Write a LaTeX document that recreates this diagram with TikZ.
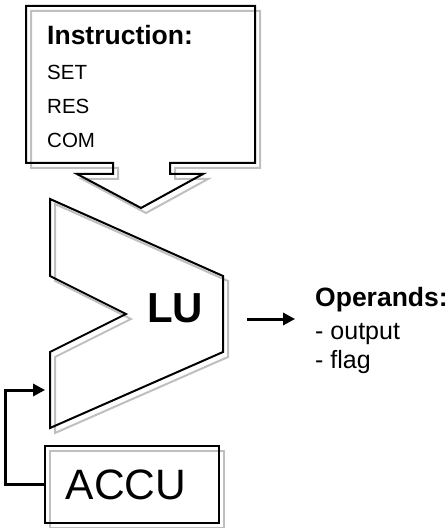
\documentclass[tikz,border=0pt]{standalone}
\usepackage{fontspec}
\setmainfont{Liberation Sans}
\usetikzlibrary{arrows.meta}

\begin{document}
\begin{tikzpicture}[x=1bp, y=-1bp, >={Triangle[length=12bp,width=12bp]},
		outline/.style={draw=black, line width=2bp},
		shade/.style={draw=black!25, line width=2bp},
		flow/.style={->, line width=3bp},
		label/.style={inner sep=0pt, anchor=base west, font=\fontsize{20.5bp}{24bp}\selectfont},
		head/.style={label, font=\bfseries\fontsize{26.5bp}{30bp}\selectfont}]
			\useasboundingbox (0,0) rectangle (448,528);

			% shadows
			\draw[shade, shift={(5,5)}] (26,6) -- (255,6) -- (255,163) -- (170,163) -- (170,174) -- (203,174)
				-- (141,208) -- (77,174) -- (113,174) -- (113,163) -- (26,163) -- cycle;
			\draw[shade, shift={(5,5)}] (50,199) -- (223,276) -- (223,352) -- (50,428) -- (50,352)
				-- (126,314) -- (50,276) -- cycle;
			\draw[shade, shift={(5,5)}] (45,446) rectangle (219,523);

			% instruction box
			\draw[outline] (26,6) -- (255,6) -- (255,163) -- (170,163) -- (170,174) -- (203,174)
				-- (141,208) -- (77,174) -- (113,174) -- (113,163) -- (26,163) -- cycle;
			\node[head] (instr) at (47,45) {Instruction:};
			\node[label] (set) at (47,80) {SET};
			\node[label] (res) at (47,114) {RES};
			\node[label] (com) at (47,148) {COM};

			% logic unit
			\draw[outline] (50,199) -- (223,276) -- (223,352) -- (50,428) -- (50,352)
				-- (126,314) -- (50,276) -- cycle;
			\node[inner sep=0pt, anchor=base, font=\bfseries\fontsize{42bp}{44bp}\selectfont] (lu) at (175,322) {LU};

			% accumulator
			\node[outline, minimum width=174bp, minimum height=77bp, inner sep=0pt,
				font=\fontsize{42.5bp}{44bp}\selectfont] (accu) at (132,484.5) {ACCU\kern12bp};

			% operands
			\node[head, font=\bfseries\fontsize{26.5bp}{30bp}\selectfont] (ops) at (315,306) {Operands:};
			\node[label, font=\fontsize{25bp}{28bp}\selectfont] (out) at (315,339) {- output};
			\node[label, font=\fontsize{25bp}{28bp}\selectfont] (flag) at (315,368) {- flag};

			\coordinate (luout) at (247,319);
			\coordinate (opsin) at (295,319);
			\coordinate (luin) at (45,390);

			\draw[flow, black!25, shift={(4,4)}] (luout) -- (opsin);
			\draw[flow, black!25, shift={(4,4)}] (accu.west) -- ++(-38,0) |- (luin);
			\draw[flow] (luout) -- (opsin);
			\draw[flow] (accu.west) -- ++(-38,0) |- (luin);
		\end{tikzpicture}
\end{document}
